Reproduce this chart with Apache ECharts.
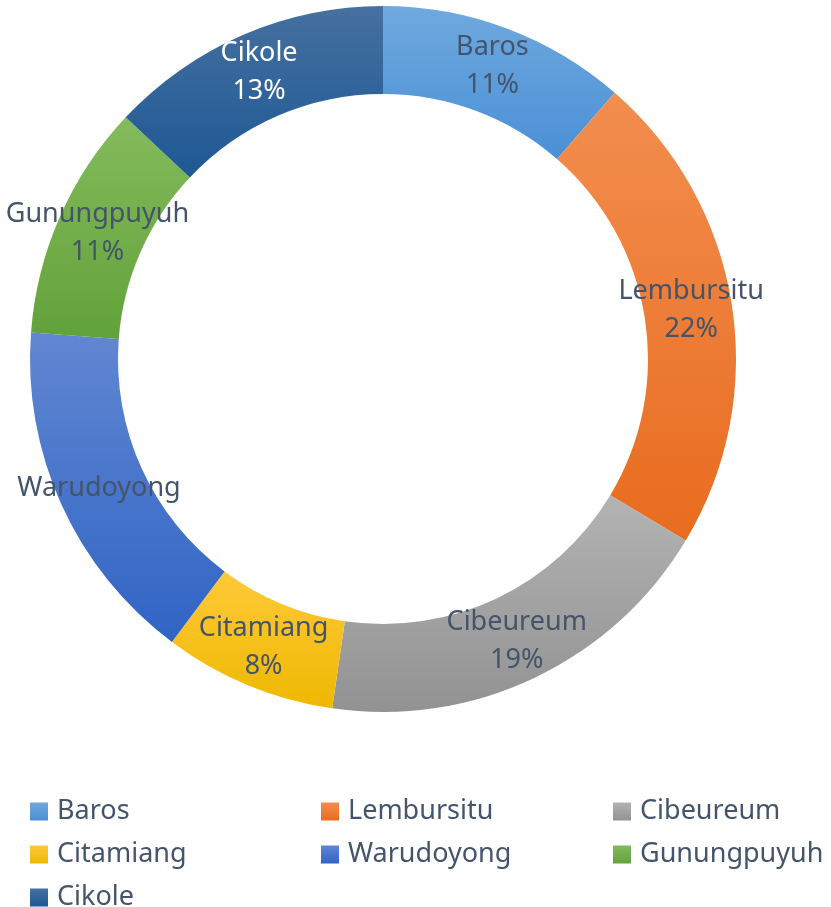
<!DOCTYPE html>
<html>
<head>
<meta charset="utf-8">
<title>Donut</title>
<script src="https://cdn.jsdelivr.net/npm/echarts@6/dist/echarts.min.js"></script>
<style>
    html, body { margin: 0; padding: 0; background: #fff; }
    #chart { width: 831px; height: 907px; }
</style>
</head>
<body>
<div id="chart"></div>
<script>
const names = ['Baros', 'Lembursitu', 'Cibeureum', 'Citamiang', 'Warudoyong', 'Gunungpuyuh', 'Cikole'];
const values = [11.4, 22.2, 18.7, 7.9, 16.0, 10.8, 13.0];
const topColors = ['#6fa9de', '#f28e4f', '#b3b3b3', '#ffc93a', '#6187d2', '#84bb5c', '#46709f'];
const bottomColors = ['#4a8fd6', '#e86c1f', '#929292', '#eeb800', '#3064c4', '#62a23a', '#1d5895'];
const hideValue = ['Warudoyong'];

// legend grid: [name, left, top]
const legendCells = [
    ['Baros', 30, 798], ['Lembursitu', 321, 798], ['Cibeureum', 613, 798],
    ['Citamiang', 30, 841], ['Warudoyong', 321, 841], ['Gunungpuyuh', 613, 841],
    ['Cikole', 30, 884],
];

const chart = echarts.init(document.getElementById('chart'));

const grad = (i) => new echarts.graphic.LinearGradient(0, 0, 0, 1, [
    {offset: 0, color: topColors[i]},
    {offset: 1, color: bottomColors[i]},
]);

const data = names.map((n, i) => ({
    name: n,
    value: values[i],
    itemStyle: {color: grad(i)},
    label: n === 'Cikole' ? {color: '#ffffff'} : {},
}));

const font = '"Noto Sans", sans-serif';
const legends = legendCells.map((c) => ({
    left: c[1],
    top: c[2],
    padding: 0,
    itemWidth: 18,
    itemHeight: 18,
    itemGap: 0,
    icon: 'rect',
    selectedMode: false,
    textStyle: {fontFamily: font, fontSize: 27, color: '#44546A', padding: [0, 0, 0, 4]},
    data: [c[0]],
}));

chart.setOption({
    animation: false,
    legend: legends,
    series: [
        {
            type: 'pie',
            center: [383, 359],
            radius: [265, 353],
            startAngle: 90,
            clockwise: true,
            avoidLabelOverlap: false,
            label: {
                position: 'inside',
                fontFamily: font,
                fontSize: 27,
                lineHeight: 38,
                color: '#44546A',
                formatter: function (p) {
                    if (hideValue.indexOf(p.name) >= 0) {
                        return p.name;
                    }
                    return p.name + '\n' + Math.round(p.percent) + '%';
                },
            },
            labelLine: {show: false},
            data: data,
        },
    ],
});
</script>
</body>
</html>
